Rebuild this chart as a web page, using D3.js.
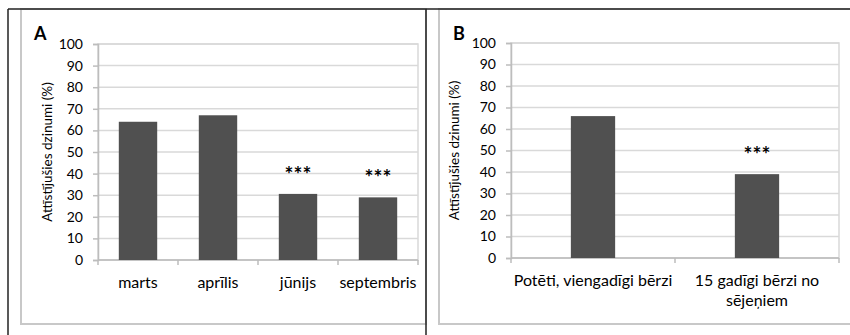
<!DOCTYPE html>
<html>
<head>
<meta charset="utf-8">
<script src="https://cdn.jsdelivr.net/npm/d3@7"></script>
<style>
	body { margin: 0; background: #fff; }
	svg { display: block; font-family: Lato, "Open Sans", sans-serif; }
</style>
</head>
<body>
<div id="app"></div>
<script>
// values
const monthsA = ['marts', 'aprīlis', 'jūnijs', 'septembris'];
const valuesA = [64, 67, 30.6, 29];
const signifA = ['', '', '***', '***'];

const groupsB = ['Potēti, viengadīgi bērzi', '15 gadīgi bērzi no sējeņiem'];
const valuesB = [66, 39];
const signifB = ['', '***'];

const yTicks = [0, 10, 20, 30, 40, 50, 60, 70, 80, 90, 100];
const yTitle = 'Attīstījušies dzinumi (%)';

const width = 850;
const height = 335;

const svg = d3.select('#app').append('svg')
	.attr('width', width)
	.attr('height', height);

// outer frame (black) and the two chart boxes (light grey)
const frame = svg.append('g');
frame.append('rect').attr('x', 21).attr('y', 9).attr('width', 405).attr('height', 315)
	.attr('fill', 'none').attr('stroke', '#c8c8c8').attr('stroke-width', 2);
frame.append('rect').attr('x', 439).attr('y', 9).attr('width', 420).attr('height', 315)
	.attr('fill', 'none').attr('stroke', '#c8c8c8').attr('stroke-width', 2);
frame.append('line').attr('x1', 8).attr('x2', width).attr('y1', 9).attr('y2', 9)
	.attr('stroke', '#222').attr('stroke-width', 1.5);
frame.append('line').attr('x1', 8).attr('x2', 8).attr('y1', 9).attr('y2', height)
	.attr('stroke', '#222').attr('stroke-width', 1.5);
frame.append('line').attr('x1', 426).attr('x2', 426).attr('y1', 9).attr('y2', height)
	.attr('stroke', '#222').attr('stroke-width', 1.5);

const wrap = (text, maxWidth) => {
	text.each(function () {
		const t = d3.select(this);
		const words = t.text().split(/\s+/);
		const x = t.attr('x') || 0;
		const y = t.attr('y');
		t.text(null);
		let line = [];
		let tspan = t.append('tspan').attr('x', x).attr('y', y);
		let lineNo = 0;
		words.forEach((w) => {
			line.push(w);
			tspan.text(line.join(' '));
			if (tspan.node().getComputedTextLength() > maxWidth && line.length > 1) {
				line.pop();
				tspan.text(line.join(' '));
				line = [w];
				lineNo++;
				tspan = t.append('tspan').attr('x', x).attr('y', y).attr('dy', lineNo * 20).text(w);
			}
		});
	});
};

const drawPanel = (opt) => {
	const g = svg.append('g');
	const x = d3.scaleBand().domain(opt.categories).range([opt.left, opt.right]).paddingInner(opt.padding).paddingOuter(opt.padding / 2);
	const xb = d3.scaleBand().domain(opt.categories).range([opt.left, opt.right]);
	const y = d3.scaleLinear().domain([0, 100]).range([opt.bottom, opt.top]);

	// plot area border and gridlines
	g.append('rect')
		.attr('x', opt.left).attr('y', opt.top)
		.attr('width', opt.right - opt.left).attr('height', opt.bottom - opt.top)
		.attr('fill', 'none').attr('stroke', '#d9d9d9').attr('stroke-width', 1.5);
	g.append('g')
		.selectAll('line')
		.data(yTicks)
		.enter()
		.append('line')
		.attr('x1', opt.left).attr('x2', opt.right)
		.attr('y1', (d) => y(d)).attr('y2', (d) => y(d))
		.attr('stroke', '#d9d9d9').attr('stroke-width', 1.5);

	// y axis
	const yAxis = g.append('g')
		.attr('transform', `translate(${opt.left},0)`)
		.call(d3.axisLeft(y).tickValues(yTicks).tickSize(5).tickPadding(10));
	yAxis.select('.domain').attr('stroke', '#bdbdbd').attr('stroke-width', 1.5);
	yAxis.selectAll('.tick line').attr('stroke', '#bdbdbd').attr('stroke-width', 1.5);
	yAxis.selectAll('.tick text').attr('font-size', 14).attr('fill', '#000').attr('font-family', 'Lato');

	// x axis: ticks at category boundaries
	const xAxis = g.append('g')
		.attr('transform', `translate(0,${opt.bottom})`);
	xAxis.append('line')
		.attr('x1', opt.left).attr('x2', opt.right)
		.attr('stroke', '#bdbdbd').attr('stroke-width', 1.5);
	xAxis.selectAll('.bound')
		.data(opt.categories.concat([null]))
		.enter()
		.append('line')
		.attr('class', 'bound')
		.attr('x1', (d) => d === null ? opt.right : xb(d))
		.attr('x2', (d) => d === null ? opt.right : xb(d))
		.attr('y1', 0).attr('y2', 5)
		.attr('stroke', '#bdbdbd').attr('stroke-width', 1.5);
	xAxis.selectAll('.cat')
		.data(opt.categories)
		.enter()
		.append('text')
		.attr('class', 'cat')
		.attr('x', (d) => xb(d) + xb.bandwidth() / 2)
		.attr('y', 28)
		.attr('text-anchor', 'middle')
		.attr('font-size', 16)
		.attr('fill', '#000')
		.text((d) => d)
		.call(wrap, xb.bandwidth() - 4);

	// bars
	g.append('g')
		.selectAll('rect')
		.data(opt.values)
		.enter()
		.append('rect')
		.attr('x', (d, i) => x(opt.categories[i]))
		.attr('y', (d) => y(d))
		.attr('width', x.bandwidth())
		.attr('height', (d) => y(0) - y(d))
		.attr('fill', '#505050');

	// significance marks
	g.append('g')
		.selectAll('text')
		.data(opt.values)
		.enter()
		.append('text')
		.attr('x', (d, i) => xb(opt.categories[i]) + xb.bandwidth() / 2)
		.attr('y', (d) => y(d) - 12)
		.attr('text-anchor', 'middle')
		.attr('font-size', 21)
		.attr('font-weight', 'bold')
		.attr('fill', '#000')
		.text((d, i) => opt.marks[i]);

	// y title
	g.append('text')
		.attr('transform', `translate(${opt.titleX},${(opt.top + opt.bottom) / 2}) rotate(-90)`)
		.attr('text-anchor', 'middle')
		.attr('dominant-baseline', 'central')
		.attr('font-size', 13.5)
		.attr('fill', '#000')
		.text(yTitle);

	// panel letter
	g.append('text')
		.attr('x', opt.letterX)
		.attr('y', 40)
		.attr('font-size', 18)
		.attr('font-weight', 'bold')
		.attr('fill', '#000')
		.text(opt.letter);
};

drawPanel({
	categories: monthsA, values: valuesA, marks: signifA,
	left: 98, right: 418, top: 44, bottom: 260, padding: 0.52,
	titleX: 47, letterX: 34, letter: 'A',
});

drawPanel({
	categories: groupsB, values: valuesB, marks: signifB,
	left: 511, right: 839, top: 43, bottom: 258, padding: 0.73,
	titleX: 454, letterX: 453, letter: 'B',
});
</script>
</body>
</html>
